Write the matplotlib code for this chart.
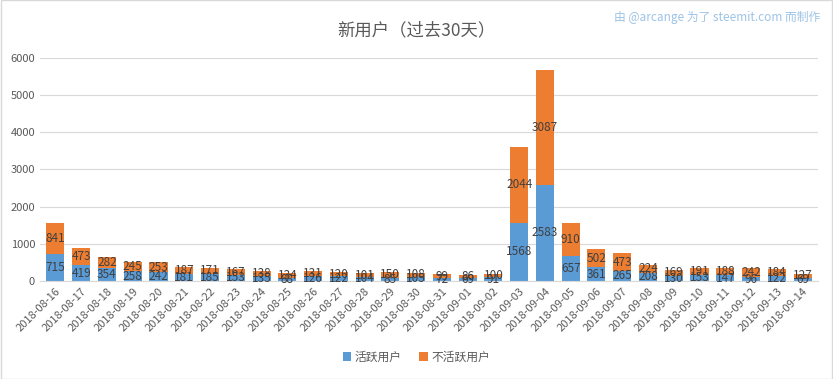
import numpy as np
import matplotlib.pyplot as plt

plt.rcParams['font.family'] = ['Noto Sans CJK SC', 'DejaVu Sans']

# 日期与数据
dates = ['2018-08-16', '2018-08-17', '2018-08-18', '2018-08-19', '2018-08-20',
         '2018-08-21', '2018-08-22', '2018-08-23', '2018-08-24', '2018-08-25',
         '2018-08-26', '2018-08-27', '2018-08-28', '2018-08-29', '2018-08-30',
         '2018-08-31', '2018-09-01', '2018-09-02', '2018-09-03', '2018-09-04',
         '2018-09-05', '2018-09-06', '2018-09-07', '2018-09-08', '2018-09-09',
         '2018-09-10', '2018-09-11', '2018-09-12', '2018-09-13', '2018-09-14']
active = [715, 419, 354, 258, 242, 181, 185, 153, 135, 88,
          126, 122, 104, 85, 105, 72, 69, 91, 1568, 2583,
          657, 361, 265, 208, 130, 153, 147, 96, 122, 69]
inactive = [841, 473, 282, 245, 253, 187, 171, 167, 138, 134,
            131, 120, 101, 150, 108, 99, 86, 100, 2044, 3087,
            910, 502, 473, 224, 169, 191, 188, 242, 184, 127]

blue = '#5B9BD5'
orange = '#ED7D31'
text_col = '#595959'

fig = plt.figure(figsize=(8.33, 3.79), dpi=100)
ax = fig.add_axes([0.048, 0.259, 0.934, 0.588])

x = np.arange(len(dates))
b1 = ax.bar(x, active, width=0.7, color=blue, label='活跃用户', zorder=2)
b2 = ax.bar(x, inactive, width=0.7, bottom=active, color=orange, label='不活跃用户', zorder=2)

# 数据标签
for i in range(len(dates)):
    ax.text(x[i], active[i] / 2, str(active[i]), ha='center', va='center',
            fontsize=8.5, color='#404040', zorder=3)
    ax.text(x[i], active[i] + inactive[i] / 2, str(inactive[i]), ha='center', va='center',
            fontsize=8.5, color='#404040', zorder=3)

ax.set_ylim(0, 6000)
ax.set_xlim(-0.6, len(dates) - 0.4)
ax.set_yticks(range(0, 6001, 1000))
ax.yaxis.grid(True, color='#D9D9D9', linewidth=0.8, zorder=0)
ax.set_xticks(x)
ax.set_xticklabels(dates, rotation=45, ha='right', rotation_mode='anchor', fontsize=8, color=text_col)
ax.tick_params(axis='y', labelsize=8, colors=text_col, length=0)
ax.tick_params(axis='x', length=0, pad=4)
for s in ['top', 'right', 'left']:
    ax.spines[s].set_visible(False)
ax.spines['bottom'].set_color('#D9D9D9')

fig.text(0.5, 0.92, '新用户（过去30天）', ha='center', va='center', fontsize=12.5, color=text_col)
fig.text(0.985, 0.955, '由 @arcange 为了 steemit.com 而制作', ha='right', va='center',
         fontsize=8.5, color='#9DC3E6')

fig.legend(handles=[b1, b2], loc='center', bbox_to_anchor=(0.5, 0.058), ncol=2, frameon=False,
           fontsize=8.5, handlelength=0.7, handleheight=0.7, handletextpad=0.3, columnspacing=1.5,
           labelcolor=text_col)

# 外框
fig.patches.append(plt.Rectangle((0.001, 0.001), 0.998, 0.998, transform=fig.transFigure,
                                 fill=False, edgecolor='#D9D9D9', linewidth=1))

fig.savefig('out.png', dpi=100)
